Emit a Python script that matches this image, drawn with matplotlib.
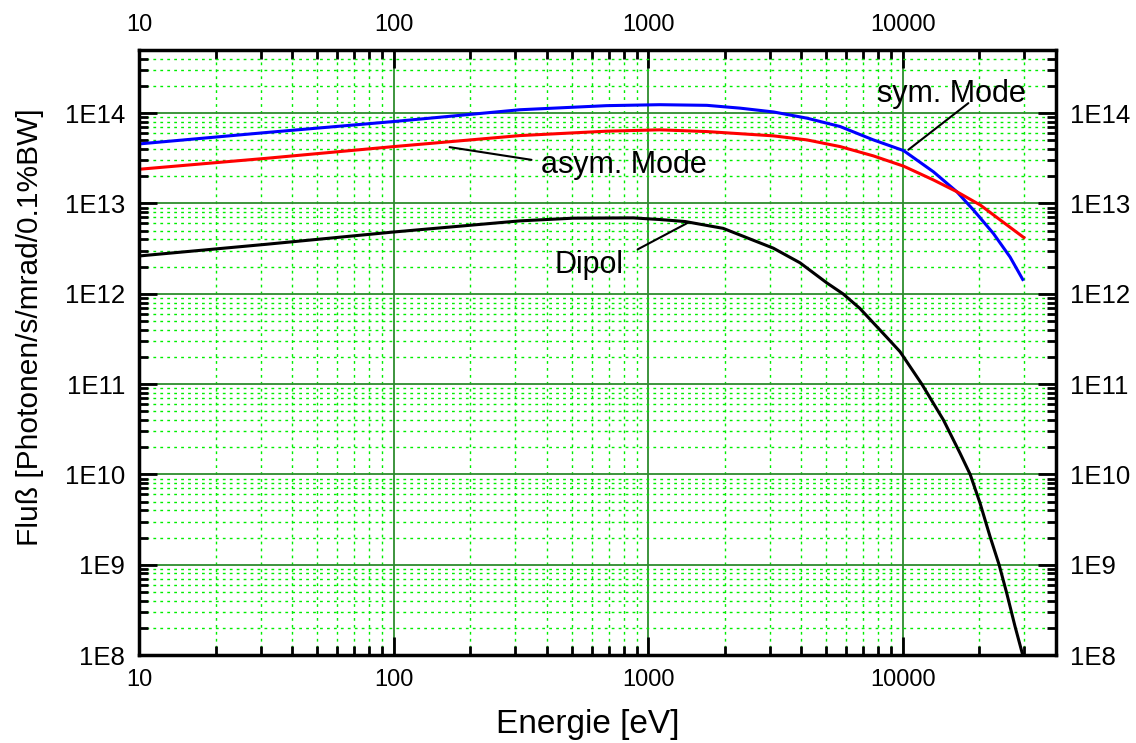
import matplotlib.pyplot as plt
import numpy as np
from matplotlib.ticker import LogLocator, FixedLocator, NullFormatter

plt.rcParams['font.family'] = ['Liberation Sans', 'DejaVu Sans']

# Energie [eV] und Fluss-Werte
e_sym = [10, 31.6, 100, 313, 685, 1110, 1700, 2300, 3110, 4210, 5680, 7670,
         10070, 13200, 16300, 19000, 22700, 26400, 29600]
f_sym = [4.56e13, 6.10e13, 8.07e13, 1.09e14, 1.21e14, 1.24e14, 1.22e14,
         1.135e14, 1.03e14, 8.79e13, 7.10e13, 5.05e13, 3.85e13, 2.24e13,
         1.35e13, 8.4e12, 4.65e12, 2.55e12, 1.44e12]

e_asym = [10, 31.6, 100, 313, 685, 1110, 1700, 3110, 4210, 5680, 7670, 10070,
          13200, 16300, 20200, 24200, 29900]
f_asym = [2.39e13, 3.16e13, 4.26e13, 5.64e13, 6.31e13, 6.53e13, 6.25e13,
          5.6e13, 5.05e13, 4.26e13, 3.36e13, 2.59e13, 1.82e13, 1.35e13,
          9.57e12, 6.53e12, 4.19e12]

e_dip = [10, 31.6, 100, 313, 507, 871, 1110, 1400, 1970, 3100, 3950, 5030,
         5820, 6780, 8650, 9760, 11880, 14450, 16800, 18400, 20100, 22000,
         23900, 25600, 27600, 29600]
f_dip = [2.62e12, 3.53e12, 4.83e12, 6.41e12, 6.87e12, 6.92e12, 6.64e12,
         6.3e12, 5.3e12, 3.2e12, 2.2e12, 1.32e12, 1.0e12, 6.9e11, 3.3e11,
         2.28e11, 1.0e11, 4.0e10, 1.71e10, 1.0e10, 4.85e9, 2.07e9, 1.0e9,
         4.86e8, 2.08e8, 1.0e8]

x_major = [10, 100, 1000, 10000]
x_labels = ['10', '100', '1000', '10000']
y_major = [1e8, 1e9, 1e10, 1e11, 1e12, 1e13, 1e14]
y_labels = ['1E8', '1E9', '1E10', '1E11', '1E12', '1E13', '1E14']

fig = plt.figure(figsize=(11.36, 7.43), dpi=100)
ax = fig.add_axes([0.1224, 0.1184, 0.8072, 0.8143])
ax.set_xscale('log')
ax.set_yscale('log')
ax.set_xlim(10, 40000)
ax.set_ylim(1e8, 5e14)

# Achsen und Gitter
ax.xaxis.set_major_locator(FixedLocator(x_major))
ax.yaxis.set_major_locator(FixedLocator(y_major))
ax.xaxis.set_minor_locator(LogLocator(base=10, subs=np.arange(2, 10)))
ax.yaxis.set_minor_locator(LogLocator(base=10, subs=np.arange(2, 10), numticks=20))
ax.xaxis.set_minor_formatter(NullFormatter())
ax.yaxis.set_minor_formatter(NullFormatter())
ax.set_xticklabels(x_labels)
ax.set_yticklabels(y_labels)

ax.grid(which='minor', color='#00ee00', linestyle=(0, (2, 3)), linewidth=1.0)
ax.grid(which='major', color='#2e8b2e', linestyle='-', linewidth=1.3)
ax.set_axisbelow(True)

ax.plot(e_sym, f_sym, color='#0000ff', lw=2.2)
ax.plot(e_asym, f_asym, color='#ff0000', lw=2.2)
ax.plot(e_dip, f_dip, color='black', lw=2.2)

# Beschriftungen der Kurven
line_kw = dict(arrowstyle='-', color='black', lw=1.5, shrinkA=0, shrinkB=0)
ax.text(15580, 1.34e14, 'sym. Mode', fontsize=22, ha='center', va='baseline')
ax.annotate('', xy=(10520, 3.93e13), xytext=(18100, 1.29e14), arrowprops=line_kw)
ax.text(806, 2.17e13, 'asym. Mode', fontsize=22, ha='center', va='baseline')
ax.annotate('', xy=(166, 4.2e13), xytext=(348, 3.04e13), arrowprops=line_kw)
ax.text(585, 1.68e12, 'Dipol', fontsize=22, ha='center', va='baseline')
ax.annotate('', xy=(1430, 6.1e12), xytext=(909, 3.1e12), arrowprops=line_kw)

ax.set_xlabel('Energie [eV]', fontsize=24)
ax.set_ylabel('Fluß [Photonen/s/mrad/0.1%BW]', fontsize=21.5)
ax.xaxis.set_label_coords(0.489, -0.09)
ax.yaxis.set_label_coords(-0.1036, 0.542)

ax.tick_params(which='both', direction='in', top=True, right=True,
               labeltop=True, labelright=True, width=2)
ax.tick_params(axis='x', labelsize=17)
ax.tick_params(axis='y', labelsize=18.5)
ax.tick_params(which='major', length=13, pad=10)
ax.tick_params(which='minor', length=6.5)
for s in ax.spines.values():
    s.set_linewidth(2.5)

fig.savefig('out.png', dpi=100)
